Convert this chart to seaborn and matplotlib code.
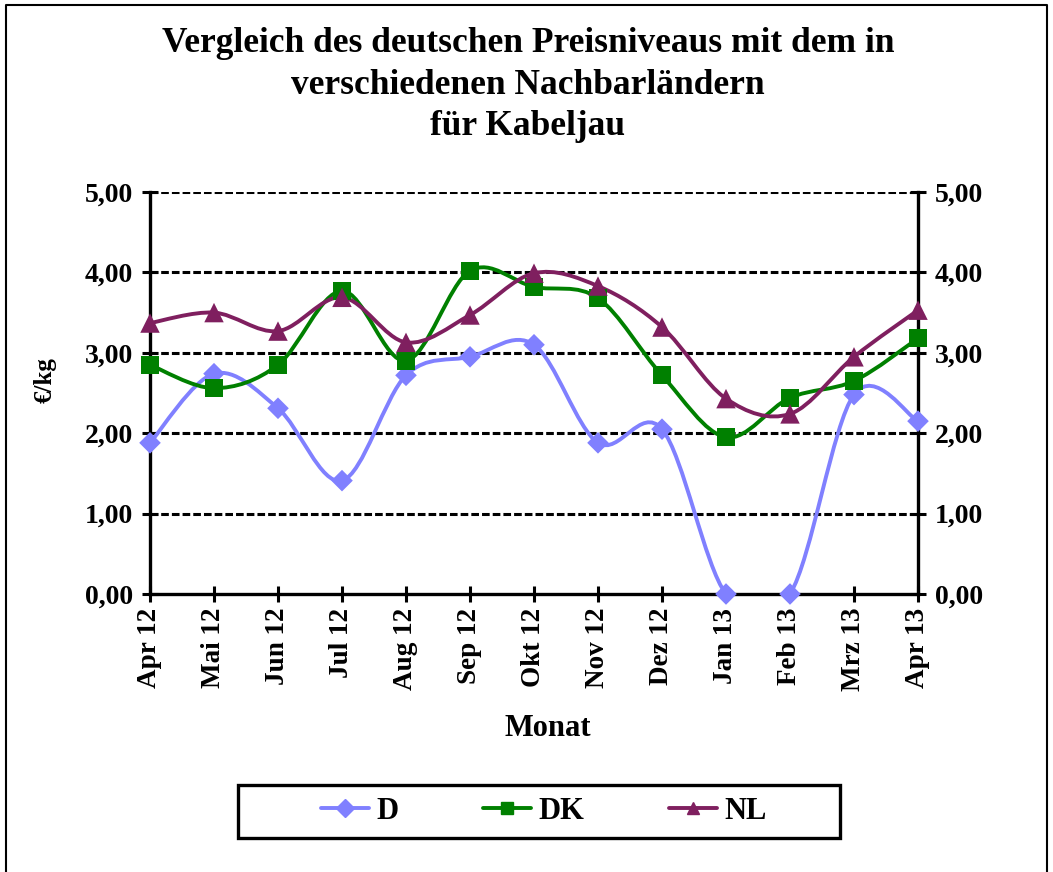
import numpy as np
import matplotlib
matplotlib.use('Agg')
import matplotlib.pyplot as plt
import seaborn as sns
from matplotlib.path import Path
from matplotlib.patches import PathPatch, Rectangle
from matplotlib.lines import Line2D

# dados
monate = ['Apr 12', 'Mai 12', 'Jun 12', 'Jul 12', 'Aug 12', 'Sep 12', 'Okt 12',
          'Nov 12', 'Dez 12', 'Jan 13', 'Feb 13', 'Mrz 13', 'Apr 13']
preis_d = [1.88, 2.74, 2.31, 1.41, 2.72, 2.95, 3.10, 1.88, 2.05, 0.00, 0.00, 2.48, 2.15]
preis_dk = [2.85, 2.56, 2.85, 3.77, 2.90, 4.02, 3.82, 3.68, 2.72, 1.95, 2.44, 2.65, 3.18]
preis_nl = [3.37, 3.50, 3.27, 3.69, 3.13, 3.47, 3.99, 3.83, 3.32, 2.43, 2.24, 2.95, 3.53]
laender = ['D', 'DK', 'NL']

cores = {'D': '#8080FF', 'DK': '#008000', 'NL': '#7F1F5F'}
marcadores = {'D': 'D', 'DK': 's', 'NL': '^'}
tamanhos = {'D': 11, 'DK': 13, 'NL': 14}

sns.set_style('white')
plt.rcParams['font.family'] = ['Liberation Serif', 'DejaVu Serif']
plt.rcParams['font.weight'] = 'bold'
plt.rcParams['text.color'] = 'black'
plt.rcParams['xtick.color'] = 'black'
plt.rcParams['ytick.color'] = 'black'
plt.rcParams['axes.labelcolor'] = 'black'


def kurve(x, y):
    # linha suavizada (estilo Excel) como curva de Bezier pelos pontos
    p = np.column_stack([x, y]).astype(float)
    ext = np.vstack([p[0], p, p[-1]])
    verts = [tuple(p[0])]
    codes = [Path.MOVETO]
    for i in range(len(p) - 1):
        p0, p1, p2, p3 = ext[i], ext[i + 1], ext[i + 2], ext[i + 3]
        c1 = p1 + (p2 - p0) / 6
        c2 = p2 - (p3 - p1) / 6
        verts += [tuple(c1), tuple(c2), tuple(p2)]
        codes += [Path.CURVE4] * 3
    return Path(verts, codes)


fig = plt.figure(figsize=(10.53, 8.72), dpi=100)
ax = fig.add_axes([150 / 1053, 1 - 594 / 872, 768 / 1053, 402 / 872])

x = np.arange(len(monate))
for nome, vals in zip(laender, [preis_d, preis_dk, preis_nl]):
    ax.add_patch(PathPatch(kurve(x, vals), facecolor='none', edgecolor=cores[nome],
                           lw=2.8, zorder=3))
    sns.scatterplot(x=x, y=vals, marker=marcadores[nome], color=cores[nome],
                    s=tamanhos[nome] ** 2, edgecolor='none', ax=ax, zorder=4,
                    clip_on=False, legend=False)

ax.set_xlim(0, 12)
ax.set_ylim(0, 5)
ax.set_xticks(x)
ax.set_xticklabels(monate, rotation=90, fontsize=19.5, fontweight='bold')
ax.set_yticks(np.arange(0, 6, 1))
ax.set_yticklabels([f'{v:.2f}'.replace('.', ',') for v in range(6)], fontsize=20,
                   fontweight='bold')
ax.tick_params(axis='y', which='both', left=True, right=True, labelleft=True,
               labelright=True, direction='inout', length=12, width=2.2, pad=6)
ax.tick_params(axis='x', bottom=True, direction='inout', length=12, width=2.2, pad=4)

for v in range(1, 6):
    ax.axhline(v, color='black', lw=2.2, ls=(0, (2.5, 1)), zorder=1)

ax.spines['top'].set_visible(False)
for s in ['left', 'right', 'bottom']:
    ax.spines[s].set_color('black')
    ax.spines[s].set_linewidth(2.4)
ax.grid(False)
ax.set_xlabel('')
ax.set_ylabel('')

fig.text(528 / 1053, 1 - 27 / 872,
         'Vergleich des deutschen Preisniveaus mit dem in\nverschiedenen Nachbarländern\nfür Kabeljau',
         ha='center', va='top', fontsize=25.5, fontweight='bold', linespacing=1.34)
fig.text(548 / 1053, 1 - 729 / 872, 'Monat', ha='center', va='center',
         fontsize=22, fontweight='bold')
fig.text(45 / 1053, 1 - 380 / 872, '€/kg', ha='center', va='center', rotation=90,
         fontsize=18, fontweight='bold')

# legenda
handles = [Line2D([], [], color=cores[n], lw=2.8, marker=marcadores[n],
                  markersize=9, markeredgecolor=cores[n]) for n in laender]
fig.legend(handles, laender, loc='center', bbox_to_anchor=(544 / 1053, 1 - 811 / 872),
           ncol=3, frameon=False, prop={'size': 22, 'weight': 'bold'},
           handlelength=1.57, handletextpad=0.23, columnspacing=2.78)
fig.add_artist(Rectangle((238 / 1053, 1 - 838 / 872), 602 / 1053, 53 / 872,
                         transform=fig.transFigure, fill=False, edgecolor='black', lw=2.4))

# moldura
fig.add_artist(Line2D([6 / 1053, 6 / 1053, 1047 / 1053, 1047 / 1053],
                      [0, 1 - 5 / 872, 1 - 5 / 872, 0], transform=fig.transFigure,
                      color='black', lw=1.5))

fig.savefig('out.png', dpi=100)
